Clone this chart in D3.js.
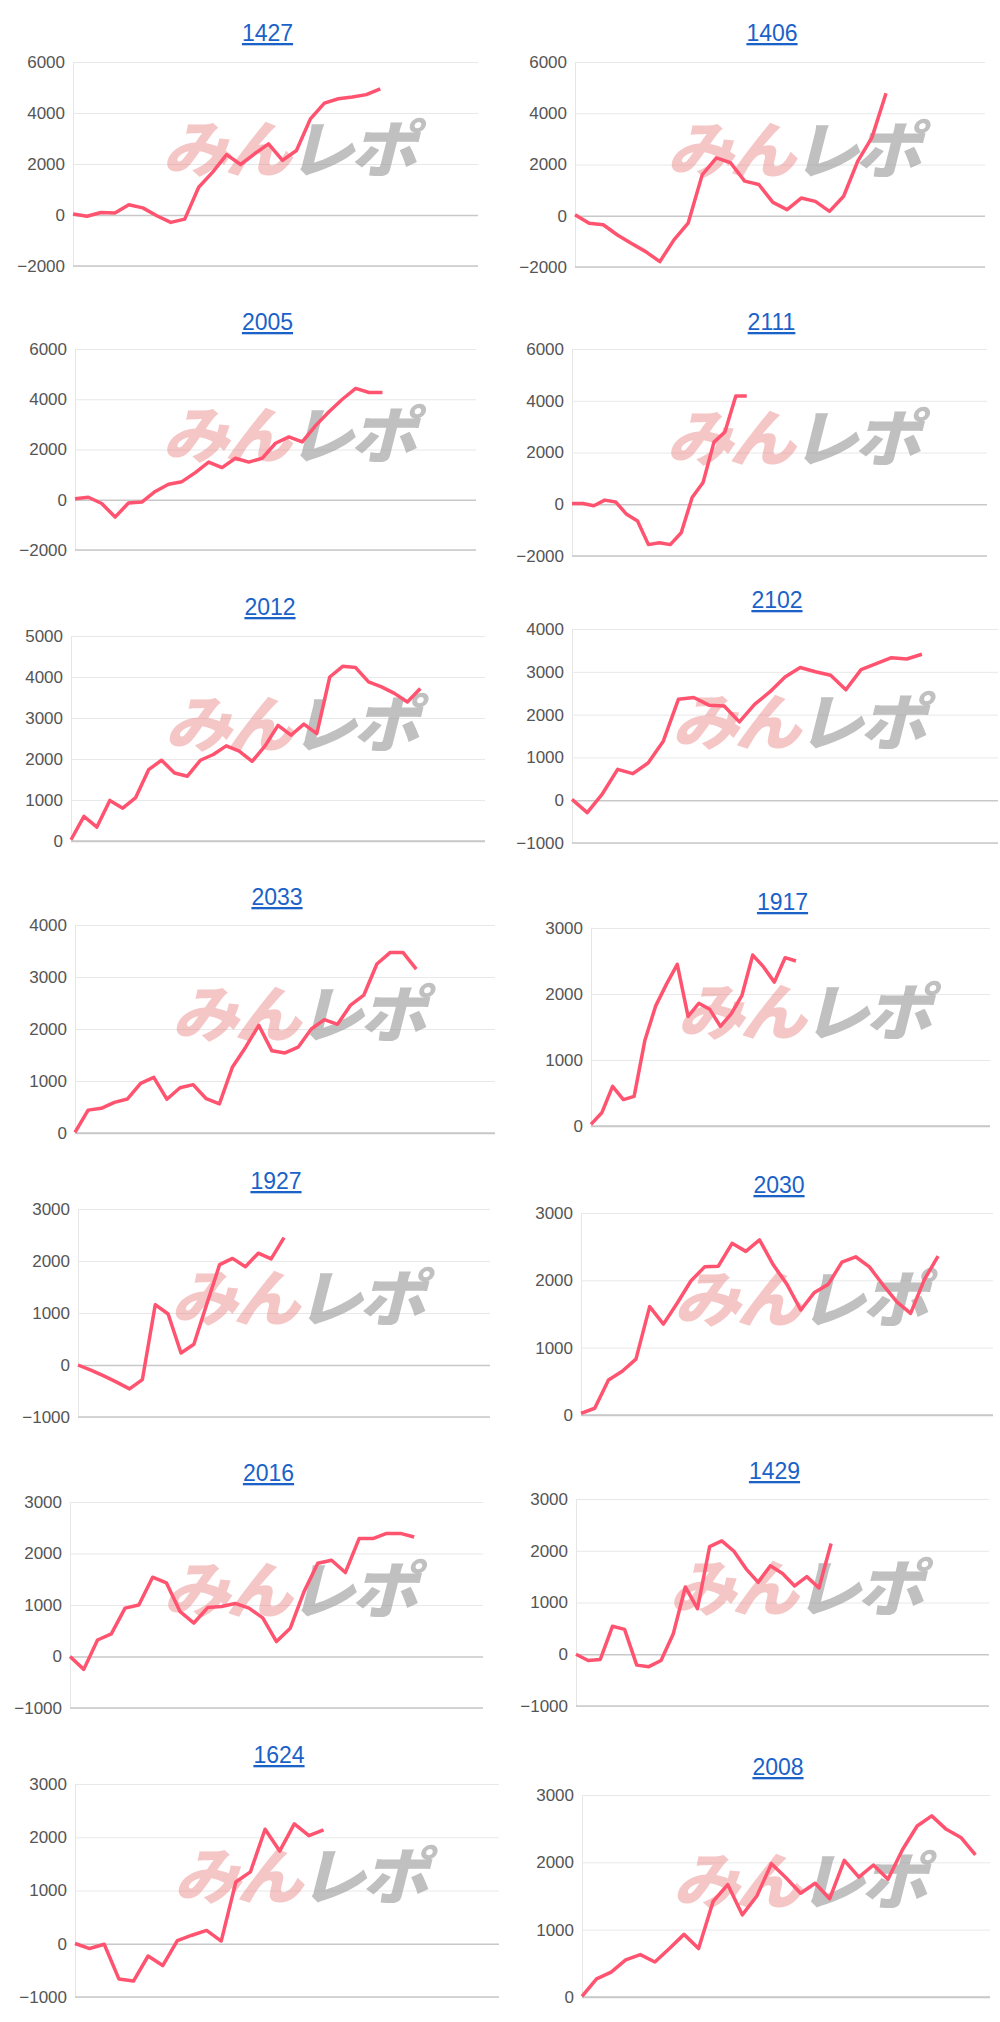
<!DOCTYPE html>
<html>
<head>
<meta charset="utf-8">
<script src="https://cdn.jsdelivr.net/npm/d3@7"></script>
<style>
  body { margin: 0; background: #fff; }
  svg { display: block; }
</style>
</head>
<body>
<svg id="chart" width="1000" height="2022"></svg>
<script>
// Panel titles (machine numbers)
const titles = ['1427', '1406', '2005', '2111', '2012', '2102', '2033', '1917', '1927', '2030', '2016', '1429', '1624', '2008'];

// Number of x intervals on each panel's category axis
const spans = [29, 29, 30, 38, 32, 28, 32, 37, 32, 30, 30, 34, 29, 28];

// Y axis range per panel [min, max, step]
const yRanges = [
    [-2000, 6000, 2000], [-2000, 6000, 2000],
    [-2000, 6000, 2000], [-2000, 6000, 2000],
    [0, 5000, 1000], [-1000, 4000, 1000],
    [0, 4000, 1000], [0, 3000, 1000],
    [-1000, 3000, 1000], [0, 3000, 1000],
    [-1000, 3000, 1000], [-1000, 3000, 1000],
    [-1000, 3000, 1000], [0, 3000, 1000]
];

// Series values (difference in medals)
const s1427 = [40, -50, 100, 80, 400, 280, -30, -290, -160, 1090, 1680, 2370, 1980, 2400, 2790, 2140, 2530, 3770, 4390, 4560, 4630, 4720, 4950];
const s1406 = [40, -290, -350, -750, -1080, -1400, -1790, -940, -290, 1600, 2260, 2070, 1350, 1220, 520, 240, 690, 560, 170, 760, 2130, 3050, 4780];
const s2005 = [40, 100, -150, -690, -130, -90, 330, 620, 720, 1080, 1500, 1280, 1650, 1500, 1650, 2250, 2500, 2300, 2950, 3500, 4000, 4430, 4270, 4270];
const s2111 = [30, 30, -60, 160, 90, -390, -650, -1560, -1490, -1560, -1100, 260, 840, 2400, 2790, 4180, 4180];
const s2012 = [30, 600, 340, 990, 800, 1060, 1740, 1970, 1660, 1580, 1970, 2110, 2320, 2190, 1940, 2320, 2820, 2580, 2850, 2620, 4000, 4260, 4230, 3880, 3760, 3600, 3390, 3720];
const s2102 = [20, -290, 150, 720, 620, 870, 1380, 2360, 2400, 2220, 2200, 1830, 2240, 2530, 2880, 3100, 3000, 2920, 2580, 3050, 3190, 3330, 3300, 3410];
const s2033 = [10, 440, 475, 590, 655, 955, 1070, 650, 870, 930, 660, 560, 1270, 1650, 2070, 1580, 1540, 1650, 2000, 2180, 2090, 2460, 2650, 3250, 3470, 3470, 3150];
const s1917 = [25, 200, 600, 400, 450, 1300, 1820, 2150, 2450, 1660, 1860, 1770, 1510, 1700, 1980, 2590, 2410, 2180, 2550, 2500];
const s1927 = [0, -100, -210, -330, -460, -280, 1160, 980, 230, 400, 1170, 1930, 2050, 1890, 2150, 2040, 2450];
const s2030 = [25, 100, 520, 650, 830, 1610, 1350, 1660, 1990, 2200, 2210, 2550, 2430, 2600, 2230, 1940, 1560, 1820, 1940, 2270, 2350, 2200, 1930, 1680, 1510, 2010, 2360];
const s2016 = [0, -250, 320, 440, 940, 1000, 1540, 1430, 870, 650, 950, 970, 1030, 940, 750, 290, 550, 1260, 1810, 1870, 1630, 2290, 2290, 2390, 2390, 2320];
const s1429 = [0, -120, -100, 540, 480, -210, -240, -120, 390, 1300, 880, 2080, 2190, 1990, 1650, 1390, 1710, 1560, 1320, 1500, 1280, 2140];
const s1624 = [5, -90, -10, -660, -700, -230, -410, 60, 160, 250, 50, 1160, 1350, 2150, 1740, 2250, 2030, 2140];
const s2008 = [10, 270, 370, 550, 630, 520, 720, 930, 720, 1420, 1670, 1220, 1500, 1980, 1770, 1540, 1690, 1460, 2030, 1780, 1960, 1750, 2190, 2540, 2690, 2490, 2370, 2110];

const seriesList = [s1427, s1406, s2005, s2111, s2012, s2102, s2033, s1917, s1927, s2030, s2016, s1429, s1624, s2008];

// Layout of each panel: title baseline, plot top, plot bottom, plot left, plot right
const frames = [
    [33, 62, 266, 73, 478], [33, 62, 267, 575, 985],
    [322, 349, 550, 75, 476], [322, 349, 556, 572, 987],
    [607, 636, 841, 71, 485], [600, 629, 843, 572, 998],
    [897, 925, 1133, 75, 495], [902, 928, 1126, 591, 990],
    [1181, 1209, 1417, 78, 490], [1185, 1213, 1415, 581, 993],
    [1473, 1502, 1708, 70, 483], [1471, 1499, 1706, 576, 989],
    [1755, 1784, 1997, 75, 499], [1767, 1795, 1997, 582, 990]
];

const lineColor = '#ff5370';
const svg = d3.select('#chart');

titles.forEach((title, i) => {
    const [titleY, top, bottom, left, right] = frames[i];
    const [yMin, yMax, yStep] = yRanges[i];
    const values = seriesList[i];

    const x = d3.scaleLinear().domain([0, spans[i]]).range([left, right]);
    const y = d3.scaleLinear().domain([yMin, yMax]).range([bottom, top]);
    const ticks = d3.range(yMin, yMax + 1, yStep);

    const g = svg.append('g');

    // Title
    g.append('text')
        .attr('x', (left + right) / 2 - 8)
        .attr('y', titleY + 8)
        .attr('text-anchor', 'middle')
        .attr('font-family', 'Helvetica, Arial, sans-serif')
        .attr('font-size', 23)
        .attr('fill', '#1a62c8')
        .attr('text-decoration', 'underline')
        .text(title);

    // Grid lines and y axis
    const yAxis = d3.axisLeft(y)
        .tickValues(ticks)
        .tickSize(-(right - left))
        .tickPadding(8)
        .tickFormat(d3.format('d'));

    const ag = g.append('g')
        .attr('transform', `translate(${left},0)`)
        .call(yAxis);
    ag.select('.domain').attr('stroke', '#e6e6e6');
    ag.selectAll('.tick line')
        .attr('stroke', d => (d === 0 ? '#c8c8c8' : '#e8e8e8'))
        .attr('stroke-width', d => (d === 0 ? 1.5 : 1));
    ag.selectAll('.tick text')
        .attr('font-family', 'Helvetica, Arial, sans-serif')
        .attr('font-size', 17)
        .attr('fill', '#555');

    // Bottom axis line
    g.append('line')
        .attr('x1', left).attr('x2', right)
        .attr('y1', bottom).attr('y2', bottom)
        .attr('stroke', '#c8c8c8')
        .attr('stroke-width', 1.5);

    // Watermark
    const wx = (left + right) / 2 + 12;
    const wy = top + (bottom - top) * 0.54;
    const wm = g.append('text')
        .attr('transform', `translate(${wx},${wy}) skewX(-14) scale(1.08,1)`)
        .attr('text-anchor', 'middle')
        .attr('font-family', '"Noto Sans CJK JP", sans-serif')
        .attr('font-weight', 900)
        .attr('font-size', 62)
        .attr('letter-spacing', -4);
    wm.append('tspan').attr('fill', 'rgba(232,128,128,0.45)').text('みん');
    wm.append('tspan').attr('fill', 'rgba(150,150,150,0.6)').text('レポ');

    // Series line
    const line = d3.line()
        .x((d, j) => x(j))
        .y(d => y(d));

    g.append('path')
        .datum(values)
        .attr('fill', 'none')
        .attr('stroke', lineColor)
        .attr('stroke-width', 3.5)
        .attr('stroke-linejoin', 'round')
        .attr('d', line);
});
</script>
</body>
</html>
